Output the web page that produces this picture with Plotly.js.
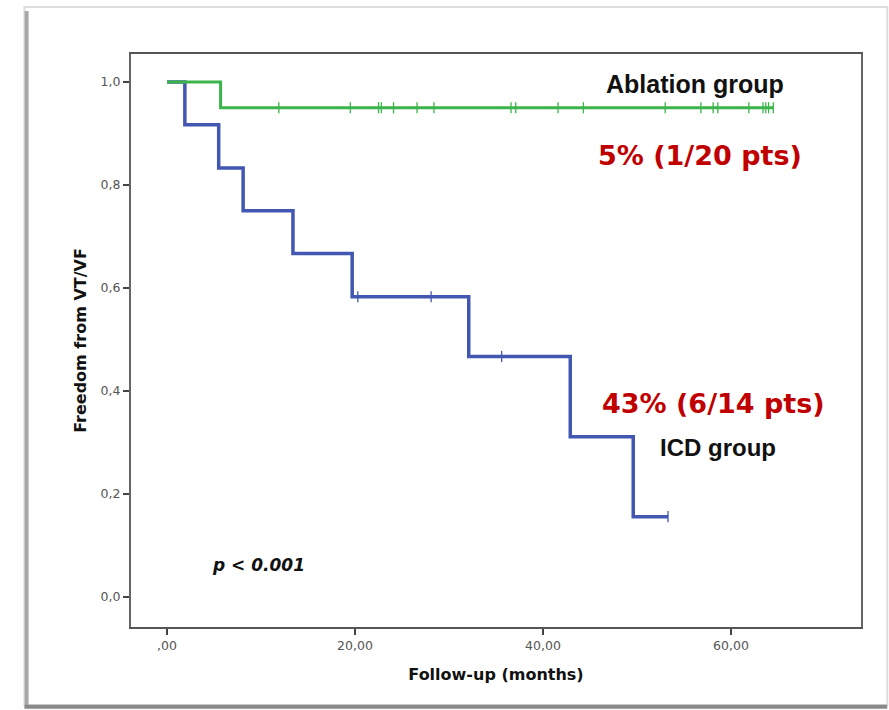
<!DOCTYPE html>
<html>
<head>
<meta charset="utf-8">
<script src="https://cdn.plot.ly/plotly-3.0.1.min.js"></script>
<style>
html,body{margin:0;padding:0;background:#fff;}
#chart{width:889px;height:710px;}
</style>
</head>
<body>
<div id="chart"></div>
<script>
// ---- data ----
const ablationTimes = [0, 5.7, 64.5];
const ablationSurv  = [1.0, 0.95, 0.95];
const ablationCensor = [11.9, 19.5, 22.5, 22.8, 24.1, 26.6, 28.4, 36.6, 37.1, 41.6, 44.3, 53.0, 56.8, 58.1, 58.6, 61.9, 63.4, 63.7, 64.0, 64.5];

const icdTimes = [0, 1.9, 5.5, 8.1, 13.4, 19.7, 32.1, 42.9, 49.6, 53.3];
const icdSurv  = [1.0, 0.917, 0.833, 0.75, 0.667, 0.583, 0.467, 0.311, 0.156, 0.156];
const icdCensor = [20.3, 28.1, 35.6, 53.3];

const xTickVals = [0, 20, 40, 60];
const xTickText = [",00", "20,00", "40,00", "60,00"];
const yTickVals = [0, 0.2, 0.4, 0.6, 0.8, 1.0];
const yTickText = ["0,0", "0,2", "0,4", "0,6", "0,8", "1,0"];

const greenColor = "#3bb54a";
const blueColor = "#4257b2";
const redText = "#c00000";

function stepValue(times, surv, t) {
  let v = surv[0];
  for (let i = 0; i < times.length; i++) { if (times[i] <= t) v = surv[i]; }
  return v;
}

const traces = [
  {x: icdTimes, y: icdSurv, mode: "lines", line: {shape: "hv", color: blueColor, width: 3.5}, hoverinfo: "skip"},
  {x: icdCensor, y: icdCensor.map(t => stepValue(icdTimes, icdSurv, t)), mode: "markers",
   marker: {symbol: "line-ns", size: 8, line: {color: blueColor, width: 1.3}}, hoverinfo: "skip"},
  {x: ablationTimes, y: ablationSurv, mode: "lines", line: {shape: "hv", color: greenColor, width: 3}, hoverinfo: "skip"},
  {x: ablationCensor, y: ablationCensor.map(t => stepValue(ablationTimes, ablationSurv, t)), mode: "markers",
   marker: {symbol: "line-ns", size: 8, line: {color: greenColor, width: 1.3}}, hoverinfo: "skip"}
];

const tickFont = {family: "DejaVu Sans, Verdana, sans-serif", size: 12.5, color: "#555"};
const titleFont = {family: "DejaVu Sans, Verdana, sans-serif", size: 16, color: "#111", weight: "bold"};

const layout = {
  width: 889, height: 710,
  margin: {l: 131, r: 28, t: 54, b: 83},
  paper_bgcolor: "#fff", plot_bgcolor: "#fff",
  showlegend: false,
  xaxis: {
    range: [-3.83, 73.83], showgrid: false, zeroline: false,
    tickvals: xTickVals, ticktext: xTickText, ticks: "outside", ticklen: 6, tickwidth: 2, tickcolor: "#444",
    tickfont: tickFont, showline: true, linecolor: "#555", linewidth: 2, mirror: true,
    title: {text: "<b>Follow-up (months)</b>", font: titleFont, standoff: 17}
  },
  yaxis: {
    range: [-0.0583, 1.0544], showgrid: false, zeroline: false,
    tickvals: yTickVals, ticktext: yTickText, ticks: "outside", ticklen: 6, tickwidth: 2, tickcolor: "#444",
    tickfont: tickFont, showline: true, linecolor: "#666", linewidth: 2, mirror: true,
    title: {text: "<b>Freedom from VT/VF</b>", font: titleFont, standoff: 10}
  },
  annotations: [
    {x: 56.2, y: 0.996, text: "<b>Ablation group</b>", showarrow: false, xanchor: "center", yanchor: "middle",
     font: {family: "Arial, Liberation Sans, sans-serif", size: 25, color: "#111"}},
    {x: 56.7, y: 0.858, text: "<b>5% (1/20 pts)</b>", showarrow: false, xanchor: "center", yanchor: "middle",
     font: {family: "DejaVu Sans, Verdana, sans-serif", size: 27, color: redText}},
    {x: 58.1, y: 0.375, text: "<b>43% (6/14 pts)</b>", showarrow: false, xanchor: "center", yanchor: "middle",
     font: {family: "DejaVu Sans, Verdana, sans-serif", size: 27, color: redText}},
    {x: 58.6, y: 0.291, text: "<b>ICD group</b>", showarrow: false, xanchor: "center", yanchor: "middle",
     font: {family: "Arial, Liberation Sans, sans-serif", size: 24, color: "#111"}},
    {x: 9.7, y: 0.062, text: "<b><i>p &lt; 0.001</i></b>", showarrow: false, xanchor: "center", yanchor: "middle",
     font: {family: "DejaVu Sans, Verdana, sans-serif", size: 17, color: "#111"}}
  ],
  shapes: [
    {type: "rect", xref: "paper", yref: "paper", x0: -0.146, x1: 1.036, y0: -0.136, y1: 1.082,
     line: {color: "#ddd", width: 2}, layer: "below"},
    {type: "line", xref: "paper", yref: "paper", x0: -0.143, x1: -0.143, y0: -0.136, y1: 1.075,
     line: {color: "#a8a8a8", width: 4}},
    {type: "line", xref: "paper", yref: "paper", x0: -0.146, x1: 1.036, y0: -0.139, y1: -0.139,
     line: {color: "#8a8a8a", width: 4}}
  ]
};

Plotly.newPlot("chart", traces, layout, {staticPlot: true, displayModeBar: false});
</script>
</body>
</html>
